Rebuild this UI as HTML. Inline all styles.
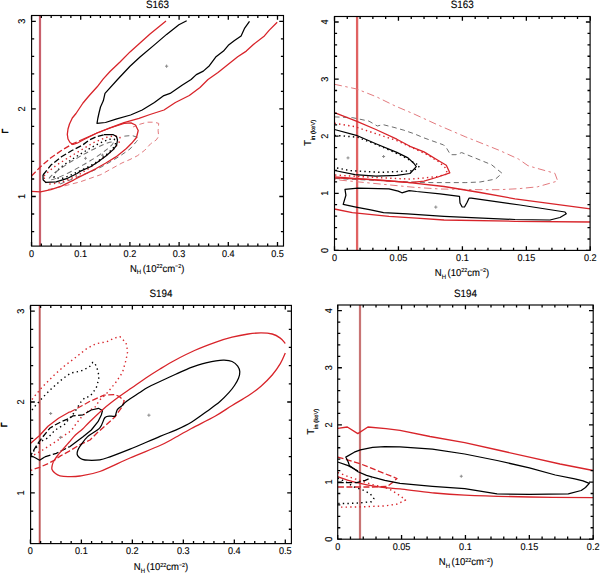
<!DOCTYPE html>
<html><head><meta charset="utf-8"><style>html,body{margin:0;padding:0;background:#fff;}body{width:600px;height:573px;overflow:hidden;font-family:"Liberation Sans",sans-serif;}svg{display:block;}</style></head><body>
<svg width="600" height="573" viewBox="0 0 600 573" text-rendering="geometricPrecision">
<rect width="600" height="573" fill="#fff"/>
<clipPath id="c1"><rect x="31.6" y="15.5" width="251.9" height="230.6"/></clipPath>
<g clip-path="url(#c1)">
<line x1="40.0" y1="15.5" x2="40.0" y2="246.1" stroke="#c8606c" stroke-width="2.2"/>
<path d="M48.0,189.5 L62.0,186.5 L80.0,181.9 L100.9,174.6 L121.9,163.0 L130.0,159.5 L137.3,155.8 L144.7,150.3 L150.8,143.6 L156.3,139.9 L158.7,136.3 L158.1,130.8 L158.7,123.4 L154.4,122.2 L147.1,122.2 L139.0,124.5 L133.0,127.0" stroke="#e27a7e" stroke-width="1" fill="none" stroke-dasharray="5 3.5" stroke-linejoin="round"/>
<path d="M60.0,184.0 L70.0,180.0 L80.0,176.0 L90.0,172.0 L100.9,167.2 L110.0,162.0 L120.0,156.0 L130.0,149.0 L136.5,141.5 L138.5,139.0 L137.0,137.2 L132.0,135.5 L126.0,136.0 L121.0,136.5" stroke="#6e6e6e" stroke-width="1" fill="none" stroke-dasharray="5 3.5" stroke-linejoin="round"/>
<path d="M166.0,21.0 L150.0,34.0 L140.0,43.0 L130.0,51.9 L120.0,62.0 L110.0,71.5 L103.3,78.9 L97.2,86.8 L89.3,95.5 L83.0,103.0 L79.0,109.0 L76.0,113.5 L72.3,118.0 L69.5,124.0 L68.0,129.0 L67.3,134.3 L68.0,139.0 L70.0,142.5 L73.0,144.5 L77.0,143.2 L84.0,139.5 L97.0,133.0 L110.0,127.8 L124.0,122.6 L139.0,118.3 L150.0,114.5 L164.0,110.0 L175.4,102.5 L189.3,95.5 L200.0,87.5 L208.0,79.5 L218.0,72.5 L228.0,64.5 L237.7,56.8 L246.3,51.1 L253.4,44.5 L264.4,35.9 L269.1,30.4 L277.2,22.2" stroke="#d8242a" stroke-width="1.3" fill="none" stroke-linejoin="round"/>
<path d="M186.7,20.8 L178.9,24.8 L166.6,34.4 L154.4,44.9 L140.0,57.0 L130.0,66.2 L118.0,79.0 L105.0,93.4 L103.3,100.8 L100.5,107.0 L99.0,113.0 L97.8,118.5 L97.0,123.4 L105.5,122.5 L116.0,119.2 L130.6,115.0 L142.2,110.0 L154.4,102.5 L163.2,95.9 L170.1,93.4 L182.4,85.0 L191.1,79.5 L196.3,74.6 L203.3,71.1 L209.4,65.7 L215.7,57.1 L223.5,51.1 L228.3,45.3 L234.5,40.6 L241.1,35.9 L244.7,28.1 L249.5,21.3" stroke="#000" stroke-width="1.25" fill="none" stroke-linejoin="round"/>
<path d="M31.5,176.0 L40.5,166.7 L50.9,157.8 L61.4,150.5 L71.9,144.2 L80.0,140.5" stroke="#d8242a" stroke-width="1.3" fill="none" stroke-dasharray="6 2.5" stroke-linejoin="round"/>
<path d="M80.0,140.5 L97.0,133.0 L110.0,128.0 L124.0,123.4 L131.0,122.9 L135.5,125.0 L138.2,130.5 L136.5,137.5 L131.6,143.3 L126.4,148.5 L115.9,156.9 L105.5,163.2 L95.7,168.8 L80.0,176.6 L74.0,179.8 L61.4,186.1 L50.9,189.7 L40.5,191.8 L31.5,191.3" stroke="#d8242a" stroke-width="1.3" fill="none" stroke-linejoin="round"/>
<path d="M44.0,176.0 L48.0,172.0 L56.0,165.5 L66.7,158.7 L80.0,150.7 L93.3,142.7 L106.7,137.3 L114.7,135.6 L120.0,137.5 L119.0,143.0 L112.0,151.0 L100.0,160.5 L88.0,169.0 L80.0,174.0 L70.7,178.7 L60.0,182.7 L50.0,184.0 L45.0,182.0 Z" stroke="#d8242a" stroke-width="1.4" fill="none" stroke-dasharray="1.4 3.2" stroke-linecap="butt" stroke-linejoin="round"/>
<path d="M54.0,177.5 L55.0,173.0 L60.0,168.0 L68.0,162.0 L78.0,155.5 L88.0,149.5 L97.0,144.5 L104.0,141.2 L110.0,139.2 L114.0,139.0 L115.5,141.0 L115.5,144.5 L112.5,149.0 L106.0,155.0 L97.5,161.5 L90.0,166.0 L80.0,170.8 L70.0,175.5 L62.0,178.5 Z" stroke="#000" stroke-width="1.4" fill="none" stroke-dasharray="1.4 3.2" stroke-linecap="butt" stroke-linejoin="round"/>
<ellipse cx="81" cy="161" rx="37" ry="4.5" transform="rotate(-30 81 161)" stroke="#6e6e6e" stroke-width="1" fill="none" stroke-dasharray="5 3.5"/>
<path d="M104.0,134.7 L113.3,134.7 L116.5,136.5 L117.5,140.0 L116.6,145.2 L113.5,149.4 L106.2,155.7 L97.8,162.0 L90.5,166.7 L80.0,171.4 L77.1,173.5 L66.6,178.7 L56.2,181.9 L45.7,182.4 L43.1,179.8 L43.0,175.0" stroke="#000" stroke-width="1.25" fill="none" stroke-linejoin="round"/>
<path d="M43.0,175.0 L50.9,165.1 L61.4,156.8 L71.9,150.5 L82.4,145.2 L89.3,140.0 L97.0,136.5 L104.0,134.7" stroke="#000" stroke-width="1.3" fill="none" stroke-dasharray="6 2.5" stroke-linejoin="round"/>
<path d="M165.0,66.2 H168.2 M166.6,64.60000000000001 V67.8" stroke="#8a8a8a" stroke-width="1.0" fill="none"/>
<path d="M84.0,158.3 H87.0 M85.5,156.8 V159.8" stroke="#8a8a8a" stroke-width="1.0" fill="none"/>
<path d="M101.0,155.2 H104.0 M102.5,153.7 V156.7" stroke="#8a8a8a" stroke-width="1.0" fill="none"/>
</g>
<path d="M31.50,246.1 v-4.2 M31.50,15.5 v4.2 M41.34,246.1 v-2.6 M41.34,15.5 v2.6 M51.18,246.1 v-2.6 M51.18,15.5 v2.6 M61.02,246.1 v-2.6 M61.02,15.5 v2.6 M70.86,246.1 v-2.6 M70.86,15.5 v2.6 M80.70,246.1 v-4.2 M80.70,15.5 v4.2 M90.54,246.1 v-2.6 M90.54,15.5 v2.6 M100.38,246.1 v-2.6 M100.38,15.5 v2.6 M110.22,246.1 v-2.6 M110.22,15.5 v2.6 M120.06,246.1 v-2.6 M120.06,15.5 v2.6 M129.90,246.1 v-4.2 M129.90,15.5 v4.2 M139.74,246.1 v-2.6 M139.74,15.5 v2.6 M149.58,246.1 v-2.6 M149.58,15.5 v2.6 M159.42,246.1 v-2.6 M159.42,15.5 v2.6 M169.26,246.1 v-2.6 M169.26,15.5 v2.6 M179.10,246.1 v-4.2 M179.10,15.5 v4.2 M188.94,246.1 v-2.6 M188.94,15.5 v2.6 M198.78,246.1 v-2.6 M198.78,15.5 v2.6 M208.62,246.1 v-2.6 M208.62,15.5 v2.6 M218.46,246.1 v-2.6 M218.46,15.5 v2.6 M228.30,246.1 v-4.2 M228.30,15.5 v4.2 M238.14,246.1 v-2.6 M238.14,15.5 v2.6 M247.98,246.1 v-2.6 M247.98,15.5 v2.6 M257.82,246.1 v-2.6 M257.82,15.5 v2.6 M267.66,246.1 v-2.6 M267.66,15.5 v2.6 M277.50,246.1 v-4.2 M277.50,15.5 v4.2 M31.6,231.54 h2.6 M283.5,231.54 h-2.6 M31.6,214.02 h2.6 M283.5,214.02 h-2.6 M31.6,196.50 h4.2 M283.5,196.50 h-4.2 M31.6,178.98 h2.6 M283.5,178.98 h-2.6 M31.6,161.46 h2.6 M283.5,161.46 h-2.6 M31.6,143.94 h2.6 M283.5,143.94 h-2.6 M31.6,126.42 h2.6 M283.5,126.42 h-2.6 M31.6,108.90 h4.2 M283.5,108.90 h-4.2 M31.6,91.38 h2.6 M283.5,91.38 h-2.6 M31.6,73.86 h2.6 M283.5,73.86 h-2.6 M31.6,56.34 h2.6 M283.5,56.34 h-2.6 M31.6,38.82 h2.6 M283.5,38.82 h-2.6 M31.6,21.30 h4.2 M283.5,21.30 h-4.2" stroke="#000" stroke-width="1.3" fill="none"/>
<rect x="31.6" y="15.5" width="251.9" height="230.6" stroke="#000" stroke-width="1.15" fill="none"/>
<text transform="translate(31.50,256.70) scale(0.93,1)" font-family="Liberation Sans, sans-serif" font-size="9.8" text-anchor="middle" fill="#000" stroke="#000" stroke-width="0.12">0</text>
<text transform="translate(80.70,256.70) scale(0.93,1)" font-family="Liberation Sans, sans-serif" font-size="9.8" text-anchor="middle" fill="#000" stroke="#000" stroke-width="0.12">0.1</text>
<text transform="translate(129.90,256.70) scale(0.93,1)" font-family="Liberation Sans, sans-serif" font-size="9.8" text-anchor="middle" fill="#000" stroke="#000" stroke-width="0.12">0.2</text>
<text transform="translate(179.10,256.70) scale(0.93,1)" font-family="Liberation Sans, sans-serif" font-size="9.8" text-anchor="middle" fill="#000" stroke="#000" stroke-width="0.12">0.3</text>
<text transform="translate(228.30,256.70) scale(0.93,1)" font-family="Liberation Sans, sans-serif" font-size="9.8" text-anchor="middle" fill="#000" stroke="#000" stroke-width="0.12">0.4</text>
<text transform="translate(277.50,256.70) scale(0.93,1)" font-family="Liberation Sans, sans-serif" font-size="9.8" text-anchor="middle" fill="#000" stroke="#000" stroke-width="0.12">0.5</text>
<text transform="translate(25.40,196.50) rotate(-90) scale(0.92,1)" font-family="Liberation Sans, sans-serif" font-size="9.9" text-anchor="middle" fill="#000" stroke="#000" stroke-width="0.12">1</text>
<text transform="translate(25.40,108.90) rotate(-90) scale(0.92,1)" font-family="Liberation Sans, sans-serif" font-size="9.9" text-anchor="middle" fill="#000" stroke="#000" stroke-width="0.12">2</text>
<text transform="translate(25.40,21.30) rotate(-90) scale(0.92,1)" font-family="Liberation Sans, sans-serif" font-size="9.9" text-anchor="middle" fill="#000" stroke="#000" stroke-width="0.12">3</text>
<text transform="translate(157.55,8.10) scale(0.93,1)" font-family="Liberation Sans, sans-serif" font-size="10.6" text-anchor="middle" fill="#000" stroke="#000" stroke-width="0.12">S163</text>
<clipPath id="c2"><rect x="334.5" y="16.5" width="255.60000000000002" height="233.9"/></clipPath>
<g clip-path="url(#c2)">
<line x1="357.1" y1="16.5" x2="357.1" y2="250.4" stroke="#e06262" stroke-width="2.3"/>
<path d="M334.5,84.3 L356.8,89.0 L376.4,96.8 L395.2,106.0 L414.0,114.0 L437.9,125.0 L465.9,137.0 L480.0,142.6 L499.2,150.3 L518.4,159.0 L528.0,165.7 L537.6,168.5 L554.9,173.3 L557.7,181.0 L537.6,186.8 L518.4,188.7 L499.2,189.7 L480.0,189.7 L440.0,189.0 L414.0,187.3 L334.5,179.6" stroke="#e27a7e" stroke-width="1" fill="none" stroke-dasharray="7.5 3.5 2.5 3.5" stroke-linejoin="round"/>
<path d="M334.5,116.9 L352.2,117.6 L368.9,121.1 L377.3,126.0 L382.9,124.6 L394.0,127.4 L403.8,130.2 L414.0,133.7 L424.0,137.9 L443.5,144.9 L446.3,147.7 L450.5,154.7 L456.1,154.7 L461.7,152.6 L475.6,158.2 L491.5,164.7 L502.1,173.3 L495.4,179.1 L480.0,182.0 L465.9,182.6 L431.0,182.6 L410.0,182.0 L334.5,178.5" stroke="#6e6e6e" stroke-width="1" fill="none" stroke-dasharray="5 3.5" stroke-linejoin="round"/>
<path d="M334.5,112.7 L356.3,121.1 L375.9,129.5 L396.8,139.2 L410.0,146.3 L424.0,151.9 L437.9,160.3 L446.3,165.2 L449.8,172.8 L437.9,177.0 L424.0,181.2 L410.0,182.6 L385.0,180.5 L361.9,178.9 L334.5,176.8" stroke="#d8242a" stroke-width="1.3" fill="none" stroke-linejoin="round"/>
<path d="M334.5,123.2 L355.0,126.7 L375.9,133.7 L396.8,140.6 L414.0,148.5 L428.0,155.0 L439.0,162.0 L445.0,167.5 L447.7,174.0 L437.0,176.5 L424.0,178.0 L410.0,179.1 L375.0,177.5 L334.5,175.0" stroke="#d8242a" stroke-width="1.4" fill="none" stroke-dasharray="1.4 3.2" stroke-linecap="butt" stroke-linejoin="round"/>
<path d="M334.5,177.8 L370.7,179.6 L407.4,182.3 L444.0,186.5 L480.0,192.5 L515.0,198.8 L590.3,208.8" stroke="#d8242a" stroke-width="1.3" fill="none" stroke-linejoin="round"/>
<path d="M334.5,209.0 L352.3,212.6 L389.0,216.3 L416.6,218.1 L444.0,220.0 L515.0,221.3 L590.3,222.0" stroke="#d8242a" stroke-width="1.3" fill="none" stroke-linejoin="round"/>
<path d="M334.5,135.4 L343.0,136.0 L357.5,137.2 L381.0,146.4 L401.5,155.6 L412.0,161.5 L416.5,164.0 L419.6,165.8 L417.0,168.8 L411.0,170.8 L381.0,172.4 L350.0,170.6 L334.5,167.5" stroke="#000" stroke-width="1.4" fill="none" stroke-dasharray="1.4 3.2" stroke-linecap="butt" stroke-linejoin="round"/>
<path d="M334.5,129.5 L356.3,135.3 L375.9,143.7 L396.8,152.4 L408.0,157.9 L414.0,163.5 L416.3,166.6 L410.0,173.5 L396.8,175.4 L375.9,176.1 L355.0,174.7 L334.5,170.5" stroke="#000" stroke-width="1.25" fill="none" stroke-linejoin="round"/>
<path d="M345.0,189.3 L357.8,188.2 L389.0,188.8 L398.2,191.1 L401.9,192.8 L409.2,190.6 L416.6,191.5 L440.0,193.8 L459.5,196.3 L460.0,203.0 L462.0,206.8 L464.5,207.0 L467.0,202.5 L469.0,198.2 L471.3,198.2 L520.0,205.0 L565.0,212.0 L566.3,213.8 L560.0,217.5 L550.0,220.0 L515.0,219.5 L444.0,216.3 L407.4,213.9 L383.5,212.6 L370.7,209.9 L356.0,207.1 L343.2,204.4 L345.9,195.2 Z" stroke="#000" stroke-width="1.25" fill="none" stroke-linejoin="round"/>
<path d="M346.5,157.9 H349.5 M348,156.4 V159.4" stroke="#8a8a8a" stroke-width="1.0" fill="none"/>
<path d="M382.1,156.5 H385.1 M383.6,155.0 V158.0" stroke="#8a8a8a" stroke-width="1.0" fill="none"/>
<path d="M434.2,207.1 H437.40000000000003 M435.8,205.5 V208.7" stroke="#8a8a8a" stroke-width="1.0" fill="none"/>
</g>
<path d="M334.50,250.4 v-4.2 M334.50,16.5 v4.2 M347.29,250.4 v-2.6 M347.29,16.5 v2.6 M360.08,250.4 v-2.6 M360.08,16.5 v2.6 M372.87,250.4 v-2.6 M372.87,16.5 v2.6 M385.66,250.4 v-2.6 M385.66,16.5 v2.6 M398.45,250.4 v-4.2 M398.45,16.5 v4.2 M411.24,250.4 v-2.6 M411.24,16.5 v2.6 M424.03,250.4 v-2.6 M424.03,16.5 v2.6 M436.82,250.4 v-2.6 M436.82,16.5 v2.6 M449.61,250.4 v-2.6 M449.61,16.5 v2.6 M462.40,250.4 v-4.2 M462.40,16.5 v4.2 M475.19,250.4 v-2.6 M475.19,16.5 v2.6 M487.98,250.4 v-2.6 M487.98,16.5 v2.6 M500.77,250.4 v-2.6 M500.77,16.5 v2.6 M513.56,250.4 v-2.6 M513.56,16.5 v2.6 M526.35,250.4 v-4.2 M526.35,16.5 v4.2 M539.14,250.4 v-2.6 M539.14,16.5 v2.6 M551.93,250.4 v-2.6 M551.93,16.5 v2.6 M564.72,250.4 v-2.6 M564.72,16.5 v2.6 M577.51,250.4 v-2.6 M577.51,16.5 v2.6 M590.30,250.4 v-4.2 M590.30,16.5 v4.2 M334.5,250.40 h4.2 M590.1,250.40 h-4.2 M334.5,238.98 h2.6 M590.1,238.98 h-2.6 M334.5,227.56 h2.6 M590.1,227.56 h-2.6 M334.5,216.14 h2.6 M590.1,216.14 h-2.6 M334.5,204.72 h2.6 M590.1,204.72 h-2.6 M334.5,193.30 h4.2 M590.1,193.30 h-4.2 M334.5,181.88 h2.6 M590.1,181.88 h-2.6 M334.5,170.46 h2.6 M590.1,170.46 h-2.6 M334.5,159.04 h2.6 M590.1,159.04 h-2.6 M334.5,147.62 h2.6 M590.1,147.62 h-2.6 M334.5,136.20 h4.2 M590.1,136.20 h-4.2 M334.5,124.78 h2.6 M590.1,124.78 h-2.6 M334.5,113.36 h2.6 M590.1,113.36 h-2.6 M334.5,101.94 h2.6 M590.1,101.94 h-2.6 M334.5,90.52 h2.6 M590.1,90.52 h-2.6 M334.5,79.10 h4.2 M590.1,79.10 h-4.2 M334.5,67.68 h2.6 M590.1,67.68 h-2.6 M334.5,56.26 h2.6 M590.1,56.26 h-2.6 M334.5,44.84 h2.6 M590.1,44.84 h-2.6 M334.5,33.42 h2.6 M590.1,33.42 h-2.6 M334.5,22.00 h4.2 M590.1,22.00 h-4.2" stroke="#000" stroke-width="1.3" fill="none"/>
<rect x="334.5" y="16.5" width="255.60000000000002" height="233.9" stroke="#000" stroke-width="1.15" fill="none"/>
<text transform="translate(334.50,261.00) scale(0.93,1)" font-family="Liberation Sans, sans-serif" font-size="9.8" text-anchor="middle" fill="#000" stroke="#000" stroke-width="0.12">0</text>
<text transform="translate(398.45,261.00) scale(0.93,1)" font-family="Liberation Sans, sans-serif" font-size="9.8" text-anchor="middle" fill="#000" stroke="#000" stroke-width="0.12">0.05</text>
<text transform="translate(462.40,261.00) scale(0.93,1)" font-family="Liberation Sans, sans-serif" font-size="9.8" text-anchor="middle" fill="#000" stroke="#000" stroke-width="0.12">0.1</text>
<text transform="translate(526.35,261.00) scale(0.93,1)" font-family="Liberation Sans, sans-serif" font-size="9.8" text-anchor="middle" fill="#000" stroke="#000" stroke-width="0.12">0.15</text>
<text transform="translate(590.30,261.00) scale(0.93,1)" font-family="Liberation Sans, sans-serif" font-size="9.8" text-anchor="middle" fill="#000" stroke="#000" stroke-width="0.12">0.2</text>
<text transform="translate(328.30,250.40) rotate(-90) scale(0.92,1)" font-family="Liberation Sans, sans-serif" font-size="9.9" text-anchor="middle" fill="#000" stroke="#000" stroke-width="0.12">0</text>
<text transform="translate(328.30,193.30) rotate(-90) scale(0.92,1)" font-family="Liberation Sans, sans-serif" font-size="9.9" text-anchor="middle" fill="#000" stroke="#000" stroke-width="0.12">1</text>
<text transform="translate(328.30,136.20) rotate(-90) scale(0.92,1)" font-family="Liberation Sans, sans-serif" font-size="9.9" text-anchor="middle" fill="#000" stroke="#000" stroke-width="0.12">2</text>
<text transform="translate(328.30,79.10) rotate(-90) scale(0.92,1)" font-family="Liberation Sans, sans-serif" font-size="9.9" text-anchor="middle" fill="#000" stroke="#000" stroke-width="0.12">3</text>
<text transform="translate(328.30,22.00) rotate(-90) scale(0.92,1)" font-family="Liberation Sans, sans-serif" font-size="9.9" text-anchor="middle" fill="#000" stroke="#000" stroke-width="0.12">4</text>
<text transform="translate(462.30,8.10) scale(0.93,1)" font-family="Liberation Sans, sans-serif" font-size="10.6" text-anchor="middle" fill="#000" stroke="#000" stroke-width="0.12">S163</text>
<clipPath id="c3"><rect x="30.6" y="305.4" width="260.79999999999995" height="238.20000000000005"/></clipPath>
<g clip-path="url(#c3)">
<line x1="39.7" y1="305.4" x2="39.7" y2="543.6" stroke="#bc5454" stroke-width="1.9"/>
<path d="M32.0,399.5 L33.5,397.5 L42.7,386.5 L53.7,375.5 L64.7,365.7 L74.5,358.3 L86.7,348.6 L96.3,343.6 L106.8,341.8 L113.8,338.3 L119.9,336.6 L126.0,342.7 L127.7,351.4 L126.0,360.1 L122.5,372.4 L115.5,382.8 L106.8,393.3 L99.8,400.0 L94.2,408.4 L90.0,409.7 L82.4,415.9 L75.6,424.4 L73.4,428.0 L69.0,432.3 L63.8,435.8 L56.8,441.0 L47.2,447.1 L42.6,450.0 L35.8,454.0 L32.0,456.0" stroke="#d8242a" stroke-width="1.4" fill="none" stroke-dasharray="1.4 3.2" stroke-linecap="butt" stroke-linejoin="round"/>
<path d="M32.0,410.0 L34.1,407.2 L42.7,397.5 L51.2,388.9 L62.2,379.1 L70.8,373.0 L80.6,371.2 L89.3,367.1 L92.8,362.3 L94.6,362.8 L97.0,367.9 L99.1,376.3 L97.0,386.1 L92.8,393.1 L89.3,396.8 L85.5,397.1 L81.3,401.3 L74.0,413.0 L64.6,424.3 L55.1,430.1 L47.8,437.9 L40.6,441.5 L32.7,452.5" stroke="#000" stroke-width="1.4" fill="none" stroke-dasharray="1.4 3.2" stroke-linecap="butt" stroke-linejoin="round"/>
<path d="M30.7,443.2 L39.3,435.8 L48.0,426.2 L58.5,418.3 L69.0,412.2 L69.8,411.8" stroke="#d8242a" stroke-width="1.3" fill="none" stroke-linejoin="round"/>
<path d="M69.8,412.3 L82.4,405.5 L90.0,401.3 L104.0,395.2 L115.1,394.5 L119.3,396.6 L124.2,400.8 L122.1,407.0 L117.9,412.6 L115.1,416.8 L106.0,425.0 L97.0,433.0 L90.0,440.0 L80.0,444.6 L69.3,451.1 L60.5,455.9 L53.6,460.7 L47.5,463.8 L39.6,467.3 L30.7,470.3" stroke="#d8242a" stroke-width="1.3" fill="none" stroke-dasharray="6 2.5" stroke-linejoin="round"/>
<path d="M30.7,455.5 L35.2,457.7 L39.6,460.3 L44.7,456.9" stroke="#000" stroke-width="1.25" fill="none" stroke-linejoin="round"/>
<path d="M44.7,456.9 L56.3,453.3 L69.7,446.7" stroke="#000" stroke-width="1.3" fill="none" stroke-dasharray="6 2.5" stroke-linejoin="round"/>
<path d="M69.7,446.7 L76.0,442.0 L83.0,436.7 L91.3,430.0 L98.0,421.7 L101.3,415.0 L102.5,410.5 L98.4,408.3 L91.3,410.0" stroke="#000" stroke-width="1.25" fill="none" stroke-linejoin="round"/>
<path d="M91.3,410.0 L83.0,414.8 L73.0,415.8 L69.7,418.3 L61.3,421.7 L55.0,425.0 L49.7,428.3 L43.5,436.0 L38.0,443.3 L33.5,450.5 L30.7,455.5" stroke="#000" stroke-width="1.3" fill="none" stroke-dasharray="6 2.5" stroke-linejoin="round"/>
<path d="M53.60,461.20 C54.33,460.17 56.40,457.03 58.00,455.00 C59.60,452.97 61.32,451.17 63.20,449.00 C65.08,446.83 67.27,444.33 69.30,442.00 C71.33,439.67 73.22,437.13 75.40,435.00 C77.58,432.87 79.97,431.45 82.40,429.20 C84.83,426.95 86.40,424.95 90.00,421.50 C93.60,418.05 99.35,412.48 104.00,408.50 C108.65,404.52 113.25,401.05 117.90,397.60 C122.55,394.15 127.23,391.07 131.90,387.80 C136.57,384.53 141.22,381.13 145.90,378.00 C150.58,374.87 155.15,371.97 160.00,369.00 C164.85,366.03 169.25,363.28 175.00,360.20 C180.75,357.12 187.67,353.52 194.50,350.50 C201.33,347.48 209.73,344.32 216.00,342.10 C222.27,339.88 226.73,338.55 232.10,337.20 C237.47,335.85 243.38,334.72 248.20,334.00 C253.02,333.28 257.00,332.90 261.00,332.90 C265.00,332.90 268.98,333.13 272.20,334.00 C275.42,334.87 278.12,336.52 280.30,338.10 C282.48,339.68 284.47,342.60 285.30,343.50" stroke="#d8242a" stroke-width="1.3" fill="none" stroke-linejoin="round"/>
<path d="M285.30,353.00 C284.47,354.78 282.48,360.03 280.30,363.70 C278.12,367.37 275.42,371.25 272.20,375.00 C268.98,378.75 265.00,382.73 261.00,386.20 C257.00,389.67 253.02,392.58 248.20,395.80 C243.38,399.02 237.63,402.08 232.10,405.50 C226.57,408.92 221.78,412.47 215.00,416.30 C208.22,420.13 198.47,424.72 191.40,428.50 C184.33,432.28 177.83,436.17 172.60,439.00 C167.37,441.83 167.10,442.33 160.00,445.50 C152.90,448.67 140.03,453.67 130.00,458.00 C119.97,462.33 108.13,468.50 99.80,471.50 C91.47,474.50 85.30,475.15 80.00,476.00 C74.70,476.85 71.33,476.63 68.00,476.60 C64.67,476.57 62.08,476.30 60.00,475.80 C57.92,475.30 56.83,474.65 55.50,473.60 C54.17,472.55 52.53,470.93 52.00,469.50 C51.47,468.07 52.03,466.38 52.30,465.00 C52.57,463.62 53.38,461.83 53.60,461.20" stroke="#d8242a" stroke-width="1.3" fill="none" stroke-linejoin="round"/>
<path d="M77.10,454.10 C76.93,452.87 77.42,451.25 78.00,449.80 C78.58,448.35 79.00,447.60 80.60,445.40 C82.20,443.20 84.40,439.52 87.60,436.60 C90.80,433.68 96.90,431.08 99.80,427.90 C102.70,424.72 103.13,419.47 105.00,417.50 C106.87,415.53 109.32,416.33 111.00,416.10 C112.68,415.87 114.07,417.15 115.10,416.10 C116.13,415.05 116.03,411.55 117.20,409.80 C118.37,408.05 120.58,406.98 122.10,405.60 C123.62,404.22 123.50,403.58 126.30,401.50 C129.10,399.42 135.28,395.48 138.90,393.10 C142.52,390.72 144.48,389.13 148.00,387.20 C151.52,385.27 155.38,383.65 160.00,381.50 C164.62,379.35 170.47,376.67 175.70,374.30 C180.93,371.93 186.17,369.25 191.40,367.30 C196.63,365.35 203.00,363.68 207.10,362.60 C211.20,361.52 213.17,361.20 216.00,360.80 C218.83,360.40 221.42,360.08 224.10,360.20 C226.78,360.32 229.83,360.52 232.10,361.50 C234.37,362.48 236.42,364.38 237.70,366.10 C238.98,367.82 239.67,369.78 239.80,371.80 C239.93,373.82 239.38,375.92 238.50,378.20 C237.62,380.48 236.07,383.13 234.50,385.50 C232.93,387.87 231.57,389.68 229.10,392.40 C226.63,395.12 223.37,398.67 219.70,401.80 C216.03,404.93 211.82,407.80 207.10,411.20 C202.38,414.60 196.63,419.05 191.40,422.20 C186.17,425.35 180.93,427.75 175.70,430.10 C170.47,432.45 167.62,433.12 160.00,436.30 C152.38,439.48 138.33,445.78 130.00,449.20 C121.67,452.62 115.03,455.03 110.00,456.80 C104.97,458.57 103.47,459.23 99.80,459.80 C96.13,460.37 90.90,460.28 88.00,460.20 C85.10,460.12 83.90,459.80 82.40,459.30 C80.90,458.80 79.88,458.07 79.00,457.20 C78.12,456.33 77.27,455.33 77.10,454.10 Z" stroke="#000" stroke-width="1.25" fill="none" stroke-linejoin="round"/>
<path d="M49.2,413.5 H52.2 M50.7,412.0 V415.0" stroke="#8a8a8a" stroke-width="1.0" fill="none"/>
<path d="M147.3,415.2 H150.5 M148.9,413.59999999999997 V416.8" stroke="#8a8a8a" stroke-width="1.0" fill="none"/>
<path d="M58.9,437.4 H61.9 M60.4,435.9 V438.9" stroke="#8a8a8a" stroke-width="1.0" fill="none"/>
</g>
<path d="M30.40,543.6 v-4.2 M30.40,305.4 v4.2 M40.60,543.6 v-2.6 M40.60,305.4 v2.6 M50.79,543.6 v-2.6 M50.79,305.4 v2.6 M60.99,543.6 v-2.6 M60.99,305.4 v2.6 M71.18,543.6 v-2.6 M71.18,305.4 v2.6 M81.38,543.6 v-4.2 M81.38,305.4 v4.2 M91.58,543.6 v-2.6 M91.58,305.4 v2.6 M101.77,543.6 v-2.6 M101.77,305.4 v2.6 M111.97,543.6 v-2.6 M111.97,305.4 v2.6 M122.16,543.6 v-2.6 M122.16,305.4 v2.6 M132.36,543.6 v-4.2 M132.36,305.4 v4.2 M142.56,543.6 v-2.6 M142.56,305.4 v2.6 M152.75,543.6 v-2.6 M152.75,305.4 v2.6 M162.95,543.6 v-2.6 M162.95,305.4 v2.6 M173.14,543.6 v-2.6 M173.14,305.4 v2.6 M183.34,543.6 v-4.2 M183.34,305.4 v4.2 M193.54,543.6 v-2.6 M193.54,305.4 v2.6 M203.73,543.6 v-2.6 M203.73,305.4 v2.6 M213.93,543.6 v-2.6 M213.93,305.4 v2.6 M224.12,543.6 v-2.6 M224.12,305.4 v2.6 M234.32,543.6 v-4.2 M234.32,305.4 v4.2 M244.52,543.6 v-2.6 M244.52,305.4 v2.6 M254.71,543.6 v-2.6 M254.71,305.4 v2.6 M264.91,543.6 v-2.6 M264.91,305.4 v2.6 M275.10,543.6 v-2.6 M275.10,305.4 v2.6 M285.30,543.6 v-4.2 M285.30,305.4 v4.2 M30.6,529.26 h2.6 M291.4,529.26 h-2.6 M30.6,511.08 h2.6 M291.4,511.08 h-2.6 M30.6,492.90 h4.2 M291.4,492.90 h-4.2 M30.6,474.72 h2.6 M291.4,474.72 h-2.6 M30.6,456.54 h2.6 M291.4,456.54 h-2.6 M30.6,438.36 h2.6 M291.4,438.36 h-2.6 M30.6,420.18 h2.6 M291.4,420.18 h-2.6 M30.6,402.00 h4.2 M291.4,402.00 h-4.2 M30.6,383.82 h2.6 M291.4,383.82 h-2.6 M30.6,365.64 h2.6 M291.4,365.64 h-2.6 M30.6,347.46 h2.6 M291.4,347.46 h-2.6 M30.6,329.28 h2.6 M291.4,329.28 h-2.6 M30.6,311.10 h4.2 M291.4,311.10 h-4.2" stroke="#000" stroke-width="1.3" fill="none"/>
<rect x="30.6" y="305.4" width="260.79999999999995" height="238.20000000000005" stroke="#000" stroke-width="1.15" fill="none"/>
<text transform="translate(30.40,554.20) scale(0.93,1)" font-family="Liberation Sans, sans-serif" font-size="9.8" text-anchor="middle" fill="#000" stroke="#000" stroke-width="0.12">0</text>
<text transform="translate(81.38,554.20) scale(0.93,1)" font-family="Liberation Sans, sans-serif" font-size="9.8" text-anchor="middle" fill="#000" stroke="#000" stroke-width="0.12">0.1</text>
<text transform="translate(132.36,554.20) scale(0.93,1)" font-family="Liberation Sans, sans-serif" font-size="9.8" text-anchor="middle" fill="#000" stroke="#000" stroke-width="0.12">0.2</text>
<text transform="translate(183.34,554.20) scale(0.93,1)" font-family="Liberation Sans, sans-serif" font-size="9.8" text-anchor="middle" fill="#000" stroke="#000" stroke-width="0.12">0.3</text>
<text transform="translate(234.32,554.20) scale(0.93,1)" font-family="Liberation Sans, sans-serif" font-size="9.8" text-anchor="middle" fill="#000" stroke="#000" stroke-width="0.12">0.4</text>
<text transform="translate(285.30,554.20) scale(0.93,1)" font-family="Liberation Sans, sans-serif" font-size="9.8" text-anchor="middle" fill="#000" stroke="#000" stroke-width="0.12">0.5</text>
<text transform="translate(24.40,492.90) rotate(-90) scale(0.92,1)" font-family="Liberation Sans, sans-serif" font-size="9.9" text-anchor="middle" fill="#000" stroke="#000" stroke-width="0.12">1</text>
<text transform="translate(24.40,402.00) rotate(-90) scale(0.92,1)" font-family="Liberation Sans, sans-serif" font-size="9.9" text-anchor="middle" fill="#000" stroke="#000" stroke-width="0.12">2</text>
<text transform="translate(24.40,311.10) rotate(-90) scale(0.92,1)" font-family="Liberation Sans, sans-serif" font-size="9.9" text-anchor="middle" fill="#000" stroke="#000" stroke-width="0.12">3</text>
<text transform="translate(161.00,297.40) scale(0.93,1)" font-family="Liberation Sans, sans-serif" font-size="10.6" text-anchor="middle" fill="#000" stroke="#000" stroke-width="0.12">S194</text>
<clipPath id="c4"><rect x="337.7" y="305.0" width="255.50000000000006" height="234.20000000000005"/></clipPath>
<g clip-path="url(#c4)">
<line x1="360.0" y1="305.0" x2="360.0" y2="539.2" stroke="#c87474" stroke-width="2.2"/>
<path d="M337.7,428.3 L347.3,427.0 L357.8,433.6 L367.9,427.0 L386.0,428.6 L400.0,430.4 L430.0,436.5 L464.7,442.7 L500.0,450.5 L529.4,457.2 L560.0,464.0 L593.2,470.5" stroke="#d8242a" stroke-width="1.3" fill="none" stroke-linejoin="round"/>
<path d="M337.70,476.60 C339.45,477.22 344.42,479.18 348.20,480.30 C351.98,481.42 356.33,482.38 360.40,483.30 C364.47,484.22 368.53,485.08 372.60,485.80 C376.67,486.52 380.23,487.08 384.80,487.60 C389.37,488.12 392.07,488.03 400.00,488.90 C407.93,489.77 421.62,491.77 432.40,492.80 C443.18,493.83 448.53,494.40 464.70,495.10 C480.87,495.80 507.98,496.57 529.40,497.00 C550.82,497.43 582.57,497.58 593.20,497.70" stroke="#d8242a" stroke-width="1.3" fill="none" stroke-linejoin="round"/>
<path d="M337.7,457.1 L348.2,460.1 L360.4,463.8 L372.6,468.7 L384.8,473.6 L397.0,478.5 L392.2,482.7 L387.3,486.4 L372.6,487.0 L360.4,487.0 L348.2,487.0 L337.7,487.0" stroke="#d8242a" stroke-width="1.3" fill="none" stroke-dasharray="6 2.5" stroke-linejoin="round"/>
<path d="M337.7,472.5 L348.2,476.6 L360.0,480.5 L372.0,484.5 L384.8,487.5 L391.0,490.0 L400.7,496.2 L405.5,500.0 L397.0,504.1 L384.8,505.9 L360.4,506.9 L337.7,507.2" stroke="#d8242a" stroke-width="1.4" fill="none" stroke-dasharray="1.4 3.2" stroke-linecap="butt" stroke-linejoin="round"/>
<path d="M337.7,478.0 L346.0,482.0 L354.3,487.0 L362.9,490.0 L370.2,493.7 L373.9,498.6 L371.4,501.7 L360.4,502.9 L348.2,503.5 L337.7,503.5" stroke="#000" stroke-width="1.4" fill="none" stroke-dasharray="1.4 3.2" stroke-linecap="butt" stroke-linejoin="round"/>
<path d="M337.7,482.7 L348.2,482.7 L356.8,482.7 L365.3,480.3 L371.4,477.8" stroke="#000" stroke-width="1.3" fill="none" stroke-dasharray="6 2.5" stroke-linejoin="round"/>
<path d="M345.8,457.1 L354.3,452.2 L360.4,449.8 L372.6,447.3 L384.8,446.7 L400.0,446.9 L432.4,449.1 L464.7,454.0 L497.1,460.5 L529.4,467.9 L555.3,475.0 L574.8,478.9 L583.0,480.8 L589.3,483.4 L585.5,487.5 L581.2,490.5 L568.3,493.8 L529.4,494.4 L497.1,493.8 L464.7,488.6 L432.4,486.3 L400.0,483.4 L384.8,480.3 L372.6,477.2 L366.5,475.4 L358.0,471.7 L349.4,465.6 L348.2,462.0 Z" stroke="#000" stroke-width="1.25" fill="none" stroke-linejoin="round"/>
<path d="M337.7,462.0 L348.2,465.6 L358.0,471.0" stroke="#000" stroke-width="1.25" fill="none" stroke-linejoin="round"/>
<path d="M459.75,476.25 H462.75 M461.25,474.75 V477.75" stroke="#8a8a8a" stroke-width="1.0" fill="none"/>
</g>
<path d="M337.70,539.2 v-4.2 M337.70,305.0 v4.2 M350.47,539.2 v-2.6 M350.47,305.0 v2.6 M363.25,539.2 v-2.6 M363.25,305.0 v2.6 M376.02,539.2 v-2.6 M376.02,305.0 v2.6 M388.80,539.2 v-2.6 M388.80,305.0 v2.6 M401.57,539.2 v-4.2 M401.57,305.0 v4.2 M414.35,539.2 v-2.6 M414.35,305.0 v2.6 M427.12,539.2 v-2.6 M427.12,305.0 v2.6 M439.90,539.2 v-2.6 M439.90,305.0 v2.6 M452.67,539.2 v-2.6 M452.67,305.0 v2.6 M465.45,539.2 v-4.2 M465.45,305.0 v4.2 M478.23,539.2 v-2.6 M478.23,305.0 v2.6 M491.00,539.2 v-2.6 M491.00,305.0 v2.6 M503.77,539.2 v-2.6 M503.77,305.0 v2.6 M516.55,539.2 v-2.6 M516.55,305.0 v2.6 M529.33,539.2 v-4.2 M529.33,305.0 v4.2 M542.10,539.2 v-2.6 M542.10,305.0 v2.6 M554.88,539.2 v-2.6 M554.88,305.0 v2.6 M567.65,539.2 v-2.6 M567.65,305.0 v2.6 M580.42,539.2 v-2.6 M580.42,305.0 v2.6 M593.20,539.2 v-4.2 M593.20,305.0 v4.2 M337.7,539.20 h4.2 M593.2,539.20 h-4.2 M337.7,527.77 h2.6 M593.2,527.77 h-2.6 M337.7,516.34 h2.6 M593.2,516.34 h-2.6 M337.7,504.91 h2.6 M593.2,504.91 h-2.6 M337.7,493.48 h2.6 M593.2,493.48 h-2.6 M337.7,482.05 h4.2 M593.2,482.05 h-4.2 M337.7,470.62 h2.6 M593.2,470.62 h-2.6 M337.7,459.19 h2.6 M593.2,459.19 h-2.6 M337.7,447.76 h2.6 M593.2,447.76 h-2.6 M337.7,436.33 h2.6 M593.2,436.33 h-2.6 M337.7,424.90 h4.2 M593.2,424.90 h-4.2 M337.7,413.47 h2.6 M593.2,413.47 h-2.6 M337.7,402.04 h2.6 M593.2,402.04 h-2.6 M337.7,390.61 h2.6 M593.2,390.61 h-2.6 M337.7,379.18 h2.6 M593.2,379.18 h-2.6 M337.7,367.75 h4.2 M593.2,367.75 h-4.2 M337.7,356.32 h2.6 M593.2,356.32 h-2.6 M337.7,344.89 h2.6 M593.2,344.89 h-2.6 M337.7,333.46 h2.6 M593.2,333.46 h-2.6 M337.7,322.03 h2.6 M593.2,322.03 h-2.6 M337.7,310.60 h4.2 M593.2,310.60 h-4.2" stroke="#000" stroke-width="1.3" fill="none"/>
<rect x="337.7" y="305.0" width="255.50000000000006" height="234.20000000000005" stroke="#000" stroke-width="1.15" fill="none"/>
<text transform="translate(337.70,549.80) scale(0.93,1)" font-family="Liberation Sans, sans-serif" font-size="9.8" text-anchor="middle" fill="#000" stroke="#000" stroke-width="0.12">0</text>
<text transform="translate(401.57,549.80) scale(0.93,1)" font-family="Liberation Sans, sans-serif" font-size="9.8" text-anchor="middle" fill="#000" stroke="#000" stroke-width="0.12">0.05</text>
<text transform="translate(465.45,549.80) scale(0.93,1)" font-family="Liberation Sans, sans-serif" font-size="9.8" text-anchor="middle" fill="#000" stroke="#000" stroke-width="0.12">0.1</text>
<text transform="translate(529.33,549.80) scale(0.93,1)" font-family="Liberation Sans, sans-serif" font-size="9.8" text-anchor="middle" fill="#000" stroke="#000" stroke-width="0.12">0.15</text>
<text transform="translate(593.20,549.80) scale(0.93,1)" font-family="Liberation Sans, sans-serif" font-size="9.8" text-anchor="middle" fill="#000" stroke="#000" stroke-width="0.12">0.2</text>
<text transform="translate(331.50,539.20) rotate(-90) scale(0.92,1)" font-family="Liberation Sans, sans-serif" font-size="9.9" text-anchor="middle" fill="#000" stroke="#000" stroke-width="0.12">0</text>
<text transform="translate(331.50,482.05) rotate(-90) scale(0.92,1)" font-family="Liberation Sans, sans-serif" font-size="9.9" text-anchor="middle" fill="#000" stroke="#000" stroke-width="0.12">1</text>
<text transform="translate(331.50,424.90) rotate(-90) scale(0.92,1)" font-family="Liberation Sans, sans-serif" font-size="9.9" text-anchor="middle" fill="#000" stroke="#000" stroke-width="0.12">2</text>
<text transform="translate(331.50,367.75) rotate(-90) scale(0.92,1)" font-family="Liberation Sans, sans-serif" font-size="9.9" text-anchor="middle" fill="#000" stroke="#000" stroke-width="0.12">3</text>
<text transform="translate(331.50,310.60) rotate(-90) scale(0.92,1)" font-family="Liberation Sans, sans-serif" font-size="9.9" text-anchor="middle" fill="#000" stroke="#000" stroke-width="0.12">4</text>
<text transform="translate(465.45,297.20) scale(0.93,1)" font-family="Liberation Sans, sans-serif" font-size="10.6" text-anchor="middle" fill="#000" stroke="#000" stroke-width="0.12">S194</text>
<text transform="translate(157.2,271.5) scale(0.95,1)" font-family="Liberation Sans, sans-serif" font-size="10" text-anchor="middle" fill="#000" stroke="#000" stroke-width="0.12">N<tspan font-size="6.3" dy="2.9">H</tspan><tspan dy="-2.9" dx="1.6">(10</tspan><tspan font-size="5.7" dy="-3.5">22</tspan><tspan dy="3.5">cm</tspan><tspan font-size="5.7" dy="-3.5">&#8722;2</tspan><tspan dy="3.5">)</tspan></text>
<text transform="translate(462.0,275.9) scale(0.95,1)" font-family="Liberation Sans, sans-serif" font-size="10" text-anchor="middle" fill="#000" stroke="#000" stroke-width="0.12">N<tspan font-size="6.3" dy="2.9">H</tspan><tspan dy="-2.9" dx="1.6">(10</tspan><tspan font-size="5.7" dy="-3.5">22</tspan><tspan dy="3.5">cm</tspan><tspan font-size="5.7" dy="-3.5">&#8722;2</tspan><tspan dy="3.5">)</tspan></text>
<text transform="translate(161.0,570.0) scale(0.95,1)" font-family="Liberation Sans, sans-serif" font-size="10" text-anchor="middle" fill="#000" stroke="#000" stroke-width="0.12">N<tspan font-size="6.3" dy="2.9">H</tspan><tspan dy="-2.9" dx="1.6">(10</tspan><tspan font-size="5.7" dy="-3.5">22</tspan><tspan dy="3.5">cm</tspan><tspan font-size="5.7" dy="-3.5">&#8722;2</tspan><tspan dy="3.5">)</tspan></text>
<text transform="translate(466.0,565.0) scale(0.95,1)" font-family="Liberation Sans, sans-serif" font-size="10" text-anchor="middle" fill="#000" stroke="#000" stroke-width="0.12">N<tspan font-size="6.3" dy="2.9">H</tspan><tspan dy="-2.9" dx="1.6">(10</tspan><tspan font-size="5.7" dy="-3.5">22</tspan><tspan dy="3.5">cm</tspan><tspan font-size="5.7" dy="-3.5">&#8722;2</tspan><tspan dy="3.5">)</tspan></text>
<text transform="translate(8.0,133.6) rotate(-90)" font-family="Liberation Sans, sans-serif" font-size="8.6" text-anchor="start" fill="#000" stroke="#000" stroke-width="0.55">&#915;</text>
<text transform="translate(6.7,427.3) rotate(-90)" font-family="Liberation Sans, sans-serif" font-size="8.6" text-anchor="start" fill="#000" stroke="#000" stroke-width="0.55">&#915;</text>
<text transform="translate(311.0,146.0) rotate(-90)" font-family="Liberation Sans, sans-serif" font-size="10" text-anchor="start" fill="#000" stroke="#000" stroke-width="0.12">T<tspan font-size="5.9" dy="3.5" dx="-0.3" stroke-width="0.15">in (keV)</tspan></text>
<text transform="translate(314.0,434.8) rotate(-90)" font-family="Liberation Sans, sans-serif" font-size="10" text-anchor="start" fill="#000" stroke="#000" stroke-width="0.12">T<tspan font-size="5.9" dy="3.5" dx="-0.3" stroke-width="0.15">in (keV)</tspan></text>
</svg>
</body></html>
